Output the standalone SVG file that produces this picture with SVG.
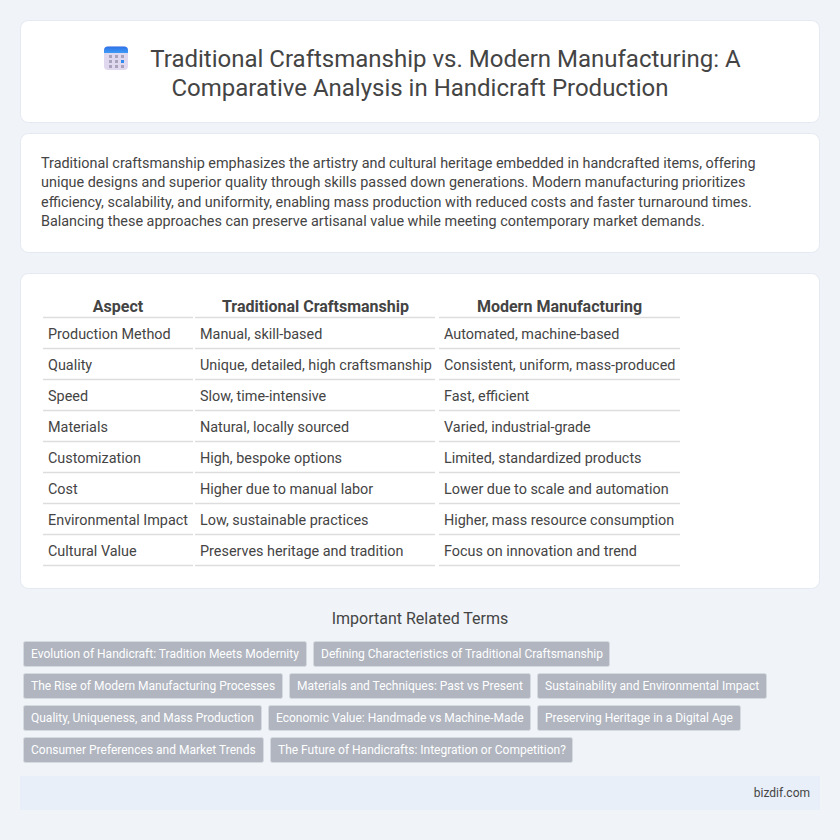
<svg xmlns="http://www.w3.org/2000/svg" width="840" height="840" viewBox="0 0 840 840">
<style>
text{font-family:Roboto,"Liberation Sans",sans-serif;fill:#444}
.card{fill:#fff;stroke:#e4e9f2;stroke-width:1}
.title{font-size:24px;text-anchor:middle}
.body{font-size:14.4px}
.th{font-size:16px;font-weight:700;text-anchor:middle}
.td{font-size:14.4px}
.rule{stroke:#ddd;stroke-width:1.5}
.tag{fill:#b0b5bf;stroke:#d5d9e0;stroke-width:1}
.tagt{font-size:12px;fill:#fff}
</style>
<defs><linearGradient id="top" x1="0" y1="0" x2="0" y2="1"><stop offset="0" stop-color="#2f6fe8"/><stop offset="1" stop-color="#3f9cf5"/></linearGradient></defs>
<rect width="840" height="840" fill="#f0f4f9"/>
<g id="header">
<rect class="card" x="20.5" y="20.5" width="799" height="102" rx="8"/>
<g id="icon">
<rect x="104" y="46.5" width="24" height="23.5" rx="4" fill="#e0d8ee"/>
<path d="M104 53v-2.500a4 4 0 0 1 4-4h16a4 4 0 0 1 4 4v2.500z" fill="url(#top)"/>
<g fill="#a9a3bd"><rect x="109" y="55" width="3" height="3"/><rect x="115" y="55" width="3" height="3"/><rect x="121" y="55" width="3" height="3"/><rect x="109" y="60" width="3" height="3"/><rect x="115" y="60" width="3" height="3"/><rect x="109" y="65" width="3" height="3"/><rect x="115" y="65" width="3" height="3"/><rect x="121" y="65" width="3" height="3"/></g>
<rect x="121" y="60" width="3" height="3" fill="#2f8bf0"/>
</g>
<text class="title" x="445.5" y="67">Traditional Craftsmanship vs. Modern Manufacturing: A</text>
<text class="title" x="420" y="96">Comparative Analysis in Handicraft Production</text>
</g>
<g id="intro">
<rect class="card" x="20.5" y="133.5" width="799" height="119" rx="8"/>
<text class="body" x="41" y="168">Traditional craftsmanship emphasizes the artistry and cultural heritage embedded in handcrafted items, offering</text>
<text class="body" x="41" y="187">unique designs and superior quality through skills passed down generations. Modern manufacturing prioritizes</text>
<text class="body" x="41" y="207">efficiency, scalability, and uniformity, enabling mass production with reduced costs and faster turnaround times.</text>
<text class="body" x="41" y="226">Balancing these approaches can preserve artisanal value while meeting contemporary market demands.</text>
</g>
<g id="table">
<rect class="card" x="20.5" y="273.5" width="799" height="315" rx="8"/>
<text class="th" x="118" y="312">Aspect</text><text class="th" x="315.500" y="312">Traditional Craftsmanship</text><text class="th" x="559.500" y="312">Modern Manufacturing</text>
<g class="rule">
<path d="M43 317.5H193M195 317.5H435M439 317.5H680M43 348.5H193M195 348.5H435M439 348.5H680M43 379.5H193M195 379.5H435M439 379.5H680M43 410.5H193M195 410.5H435M439 410.5H680M43 441.5H193M195 441.5H435M439 441.5H680M43 472.5H193M195 472.5H435M439 472.5H680M43 503.5H193M195 503.5H435M439 503.5H680M43 534.5H193M195 534.5H435M439 534.5H680M43 565.5H193M195 565.5H435M439 565.5H680"/>
</g>
<text class="td" x="48" y="339">Production Method</text><text class="td" x="200" y="339">Manual, skill-based</text><text class="td" x="444" y="339">Automated, machine-based</text>
<text class="td" x="48" y="370">Quality</text><text class="td" x="200" y="370">Unique, detailed, high craftsmanship</text><text class="td" x="444" y="370">Consistent, uniform, mass-produced</text>
<text class="td" x="48" y="401">Speed</text><text class="td" x="200" y="401">Slow, time-intensive</text><text class="td" x="444" y="401">Fast, efficient</text>
<text class="td" x="48" y="432">Materials</text><text class="td" x="200" y="432">Natural, locally sourced</text><text class="td" x="444" y="432">Varied, industrial-grade</text>
<text class="td" x="48" y="463">Customization</text><text class="td" x="200" y="463">High, bespoke options</text><text class="td" x="444" y="463">Limited, standardized products</text>
<text class="td" x="48" y="494">Cost</text><text class="td" x="200" y="494">Higher due to manual labor</text><text class="td" x="444" y="494">Lower due to scale and automation</text>
<text class="td" x="48" y="525">Environmental Impact</text><text class="td" x="200" y="525">Low, sustainable practices</text><text class="td" x="444" y="525">Higher, mass resource consumption</text>
<text class="td" x="48" y="556">Cultural Value</text><text class="td" x="200" y="556">Preserves heritage and tradition</text><text class="td" x="444" y="556">Focus on innovation and trend</text>
</g>
<g id="terms">
<text x="420" y="624" font-size="16" text-anchor="middle">Important Related Terms</text>
<rect class="tag" x="23.5" y="641.5" width="283" height="25" rx="2"/><text class="tagt" x="31" y="658">Evolution of Handicraft: Tradition Meets Modernity</text>
<rect class="tag" x="313.5" y="641.5" width="296" height="25" rx="2"/><text class="tagt" x="321" y="658">Defining Characteristics of Traditional Craftsmanship</text>
<rect class="tag" x="23.5" y="673.5" width="259" height="25" rx="2"/><text class="tagt" x="31" y="690">The Rise of Modern Manufacturing Processes</text>
<rect class="tag" x="289.5" y="673.5" width="241" height="25" rx="2"/><text class="tagt" x="297" y="690">Materials and Techniques: Past vs Present</text>
<rect class="tag" x="537.5" y="673.5" width="229" height="25" rx="2"/><text class="tagt" x="545" y="690">Sustainability and Environmental Impact</text>
<rect class="tag" x="23.5" y="705.5" width="238" height="25" rx="2"/><text class="tagt" x="31" y="722">Quality, Uniqueness, and Mass Production</text>
<rect class="tag" x="268.5" y="705.5" width="262" height="25" rx="2"/><text class="tagt" x="276" y="722">Economic Value: Handmade vs Machine-Made</text>
<rect class="tag" x="537.5" y="705.5" width="203" height="25" rx="2"/><text class="tagt" x="545" y="722">Preserving Heritage in a Digital Age</text>
<rect class="tag" x="23.5" y="737.5" width="240" height="25" rx="2"/><text class="tagt" x="31" y="754">Consumer Preferences and Market Trends</text>
<rect class="tag" x="270.5" y="737.5" width="302" height="25" rx="2"/><text class="tagt" x="278" y="754">The Future of Handicrafts: Integration or Competition?</text>
</g>
<g id="footer">
<rect x="20" y="776" width="800" height="34" fill="#e8eff8"/>
<text x="810" y="797" font-size="12" text-anchor="end">bizdif.com</text>
</g>
</svg>
